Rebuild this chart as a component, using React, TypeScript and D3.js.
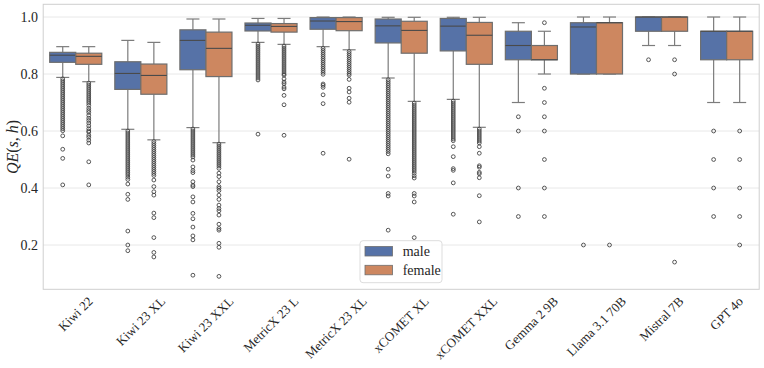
import React from "react";
import * as d3 from "d3";

const categories = [
  "Kiwi 22", "Kiwi 23 XL", "Kiwi 23 XXL", "MetricX 23 L", "MetricX 23 XL",
  "xCOMET XL", "xCOMET XXL", "Gemma 2 9B", "Llama 3.1 70B", "Mistral 7B", "GPT 4o",
];
const genders = ["male", "female"];
const genderColors = ["#5672a7", "#cd8760"];

// [whiskerLow, q1, median, q3, whiskerHigh]
const maleStats: number[][] = [
  [0.788, 0.841, 0.866, 0.876, 0.896],
  [0.606, 0.746, 0.802, 0.843, 0.918],
  [0.612, 0.815, 0.918, 0.955, 0.993],
  [0.911, 0.951, 0.971, 0.979, 0.995],
  [0.896, 0.957, 0.986, 0.998, 1.0],
  [0.786, 0.909, 0.969, 0.993, 0.999],
  [0.711, 0.881, 0.968, 0.995, 0.999],
  [0.70, 0.85, 0.90, 0.95, 0.98],
  [0.80, 0.80, 0.965, 0.98, 1.0],
  [0.90, 0.95, 1.0, 1.0, 1.0],
  [0.70, 0.85, 0.95, 0.95, 1.0],
];
const femaleStats: number[][] = [
  [0.773, 0.834, 0.862, 0.873, 0.896],
  [0.569, 0.729, 0.795, 0.835, 0.911],
  [0.559, 0.791, 0.890, 0.947, 0.993],
  [0.904, 0.947, 0.967, 0.977, 0.995],
  [0.885, 0.952, 0.984, 0.998, 1.0],
  [0.704, 0.873, 0.953, 0.985, 0.999],
  [0.613, 0.834, 0.936, 0.981, 0.999],
  [0.80, 0.85, 0.85, 0.90, 0.95],
  [0.80, 0.80, 0.98, 0.98, 1.0],
  [0.90, 0.95, 1.0, 1.0, 1.0],
  [0.70, 0.85, 0.95, 0.95, 1.0],
];

const maleOutliers: number[][] = [
  [0.783, 0.776, 0.769, 0.762, 0.755, 0.748, 0.741, 0.734, 0.727, 0.72, 0.713, 0.706, 0.699, 0.692, 0.685, 0.678, 0.671, 0.664, 0.657, 0.65, 0.643, 0.636, 0.629, 0.622, 0.615, 0.608, 0.601, 0.583, 0.536, 0.504, 0.411],
  [0.6, 0.593, 0.586, 0.579, 0.572, 0.565, 0.558, 0.551, 0.544, 0.537, 0.53, 0.523, 0.516, 0.509, 0.502, 0.495, 0.488, 0.481, 0.474, 0.467, 0.46, 0.453, 0.446, 0.438, 0.43, 0.414, 0.378, 0.36, 0.249, 0.2, 0.18],
  [0.607, 0.6, 0.593, 0.586, 0.579, 0.572, 0.565, 0.558, 0.551, 0.544, 0.537, 0.53, 0.523, 0.516, 0.509, 0.498, 0.474, 0.461, 0.454, 0.422, 0.41, 0.405, 0.369, 0.351, 0.311, 0.292, 0.263, 0.232, 0.218, 0.094],
  [0.905, 0.898, 0.891, 0.884, 0.877, 0.87, 0.863, 0.856, 0.849, 0.842, 0.835, 0.828, 0.821, 0.814, 0.807, 0.8, 0.793, 0.786, 0.779, 0.589],
  [0.89, 0.883, 0.876, 0.869, 0.862, 0.855, 0.848, 0.841, 0.834, 0.827, 0.82, 0.813, 0.806, 0.799, 0.765, 0.76, 0.753, 0.727, 0.696, 0.522],
  [0.78, 0.773, 0.766, 0.759, 0.752, 0.745, 0.738, 0.731, 0.724, 0.717, 0.71, 0.703, 0.696, 0.689, 0.682, 0.675, 0.668, 0.661, 0.654, 0.647, 0.64, 0.633, 0.626, 0.619, 0.612, 0.605, 0.598, 0.591, 0.584, 0.577, 0.57, 0.563, 0.556, 0.549, 0.542, 0.535, 0.528, 0.52, 0.466, 0.442, 0.381, 0.372, 0.252],
  [0.705, 0.698, 0.691, 0.684, 0.677, 0.67, 0.663, 0.656, 0.649, 0.642, 0.635, 0.628, 0.621, 0.614, 0.607, 0.6, 0.593, 0.586, 0.579, 0.572, 0.566, 0.545, 0.51, 0.468, 0.462, 0.418, 0.308],
  [0.65, 0.6, 0.4, 0.3],
  [0.2],
  [0.85],
  [0.6, 0.5, 0.4, 0.3],
];
const femaleOutliers: number[][] = [
  [0.768, 0.761, 0.754, 0.747, 0.74, 0.733, 0.726, 0.719, 0.712, 0.705, 0.698, 0.69, 0.68, 0.672, 0.665, 0.655, 0.645, 0.637, 0.628, 0.618, 0.608, 0.6, 0.596, 0.585, 0.578, 0.568, 0.558, 0.492, 0.411],
  [0.563, 0.556, 0.549, 0.542, 0.535, 0.528, 0.521, 0.514, 0.507, 0.5, 0.493, 0.486, 0.479, 0.472, 0.465, 0.458, 0.451, 0.444, 0.428, 0.405, 0.387, 0.375, 0.312, 0.296, 0.226, 0.174, 0.158],
  [0.554, 0.547, 0.54, 0.533, 0.526, 0.519, 0.512, 0.505, 0.498, 0.491, 0.484, 0.477, 0.469, 0.452, 0.44, 0.422, 0.405, 0.399, 0.391, 0.375, 0.36, 0.34, 0.328, 0.32, 0.305, 0.273, 0.258, 0.252, 0.206, 0.192, 0.09],
  [0.898, 0.891, 0.884, 0.877, 0.87, 0.863, 0.856, 0.849, 0.842, 0.835, 0.828, 0.821, 0.814, 0.807, 0.8, 0.796, 0.783, 0.772, 0.766, 0.754, 0.748, 0.725, 0.692, 0.585],
  [0.879, 0.872, 0.865, 0.858, 0.851, 0.844, 0.837, 0.83, 0.823, 0.816, 0.809, 0.802, 0.796, 0.781, 0.75, 0.737, 0.715, 0.701, 0.501],
  [0.698, 0.691, 0.684, 0.677, 0.67, 0.663, 0.656, 0.649, 0.642, 0.635, 0.628, 0.621, 0.614, 0.607, 0.6, 0.593, 0.586, 0.579, 0.572, 0.565, 0.558, 0.551, 0.544, 0.537, 0.53, 0.523, 0.516, 0.509, 0.502, 0.495, 0.488, 0.481, 0.474, 0.467, 0.46, 0.452, 0.443, 0.435, 0.381, 0.372, 0.351, 0.226],
  [0.607, 0.6, 0.593, 0.586, 0.579, 0.572, 0.565, 0.558, 0.545, 0.522, 0.478, 0.473, 0.455, 0.45, 0.436, 0.373, 0.281],
  [0.98, 0.75, 0.7, 0.65, 0.6, 0.5, 0.4, 0.3],
  [0.2],
  [0.85, 0.8, 0.14],
  [0.6, 0.5, 0.4, 0.3, 0.2],
];

const yTicks = [0.2, 0.4, 0.6, 0.8, 1.0];
const yTickLabels = ["0.2", "0.4", "0.6", "0.8", "1.0"];
const yDomain = [0.0446, 1.0446];

const FONT = "'Liberation Serif', 'Times New Roman', serif";
const TICK_SIZE = 13;

let _ctx: CanvasRenderingContext2D | null = null;
function measure(text: string, size: number): number {
  if (!_ctx) _ctx = document.createElement("canvas").getContext("2d");
  if (!_ctx) return text.length * size * 0.5;
  _ctx.font = `${size}px ${FONT}`;
  return _ctx.measureText(text).width;
}

export default function App() {
  const W = 764, H = 368;
  const left = 43.2, right = 759.2, top = 4.3, bottom = 289.3;
  const x = d3.scaleBand<string>().domain(categories).range([left, right]).padding(0);
  const y = d3.scaleLinear().domain(yDomain).range([bottom, top]);
  const band = x.bandwidth();
  const bw = band * 0.4;
  const capW = bw * 0.5;
  const edge = "#6e6e6e";
  const whisk = "#7c7c7c";
  const statsByGender = [maleStats, femaleStats];
  const outByGender = [maleOutliers, femaleOutliers];
  const txt = { fontFamily: FONT };

  return (
    <svg width={W} height={H} style={{ position: "absolute", left: 0, top: 0, fontFamily: FONT }}>
      <rect x={0} y={0} width={W} height={H} fill="#ffffff" />
      {yTicks.map((t, i) => (
        <line key={"g" + i} x1={left} x2={right} y1={y(t)} y2={y(t)} stroke="#e8e8e8" strokeWidth={1} />
      ))}
      {categories.map((c, i) =>
        genders.map((g, gi) => {
          const [lo, q1, med, q3, hi] = statsByGender[gi][i];
          const cx = (x(c) as number) + band / 2 + (gi === 0 ? -0.5 : 0.5) * bw;
          return (
            <g key={c + g}>
              <line x1={cx} x2={cx} y1={y(q3)} y2={y(hi)} stroke={whisk} strokeWidth={1.2} />
              <line x1={cx} x2={cx} y1={y(q1)} y2={y(lo)} stroke={whisk} strokeWidth={1.2} />
              <line x1={cx - capW / 2} x2={cx + capW / 2} y1={y(hi)} y2={y(hi)} stroke={whisk} strokeWidth={1.2} />
              <line x1={cx - capW / 2} x2={cx + capW / 2} y1={y(lo)} y2={y(lo)} stroke={whisk} strokeWidth={1.2} />
              <rect x={cx - bw / 2} y={y(q3)} width={bw} height={Math.max(0, y(q1) - y(q3))}
                fill={genderColors[gi]} stroke={edge} strokeWidth={1.2} />
              <line x1={cx - bw / 2} x2={cx + bw / 2} y1={y(med)} y2={y(med)} stroke="#4a4a4a" strokeWidth={1.1} />
              {outByGender[gi][i].map((v, k) => (
                <circle key={k} cx={cx} cy={y(v)} r={1.9} fill="none" stroke="#444444" strokeWidth={0.9} />
              ))}
            </g>
          );
        })
      )}
      <rect x={left} y={top} width={right - left} height={bottom - top} fill="none" stroke="#cfcfcf" strokeWidth={1} />
      {yTicks.map((t, i) => (
        <text key={"yt" + i} x={38} y={y(t)} dy="0.34em" textAnchor="end" fontSize={TICK_SIZE + 1} fill="#262626" style={txt}>
          {yTickLabels[i]}
        </text>
      ))}
      {categories.map((c) => {
        const L = measure(c, TICK_SIZE);
        const h = TICK_SIZE * 0.7;
        const cx = (x(c) as number) + band / 2;
        const cy = 296 + (L + h) / (2 * Math.SQRT2);
        return (
          <text key={"xt" + c} transform={`translate(${cx},${cy}) rotate(-45)`} textAnchor="middle"
            dy="0.32em" fontSize={TICK_SIZE} fill="#262626" style={txt}>
            {c}
          </text>
        );
      })}
      <text transform={`translate(13,147) rotate(-90)`} textAnchor="middle" dy="0.32em" fontSize={16} fill="#262626" style={txt}>
        <tspan fontStyle="italic">QE</tspan>(<tspan fontStyle="italic">s</tspan>, <tspan fontStyle="italic">h</tspan>)
      </text>
      <g>
        <rect x={360} y={240.7} width={82} height={42} rx={3} fill="#ffffff" fillOpacity={0.85} stroke="#dddddd" strokeWidth={1} />
        {genders.map((g, gi) => (
          <g key={"lg" + g}>
            <rect x={365} y={246.5 + gi * 18.8} width={27.5} height={9.5} fill={genderColors[gi]} stroke={edge} strokeWidth={0.8} />
            <text x={402.7} y={256 + gi * 18.8} fontSize={14} fill="#262626" style={txt}>{g}</text>
          </g>
        ))}
      </g>
    </svg>
  );
}
